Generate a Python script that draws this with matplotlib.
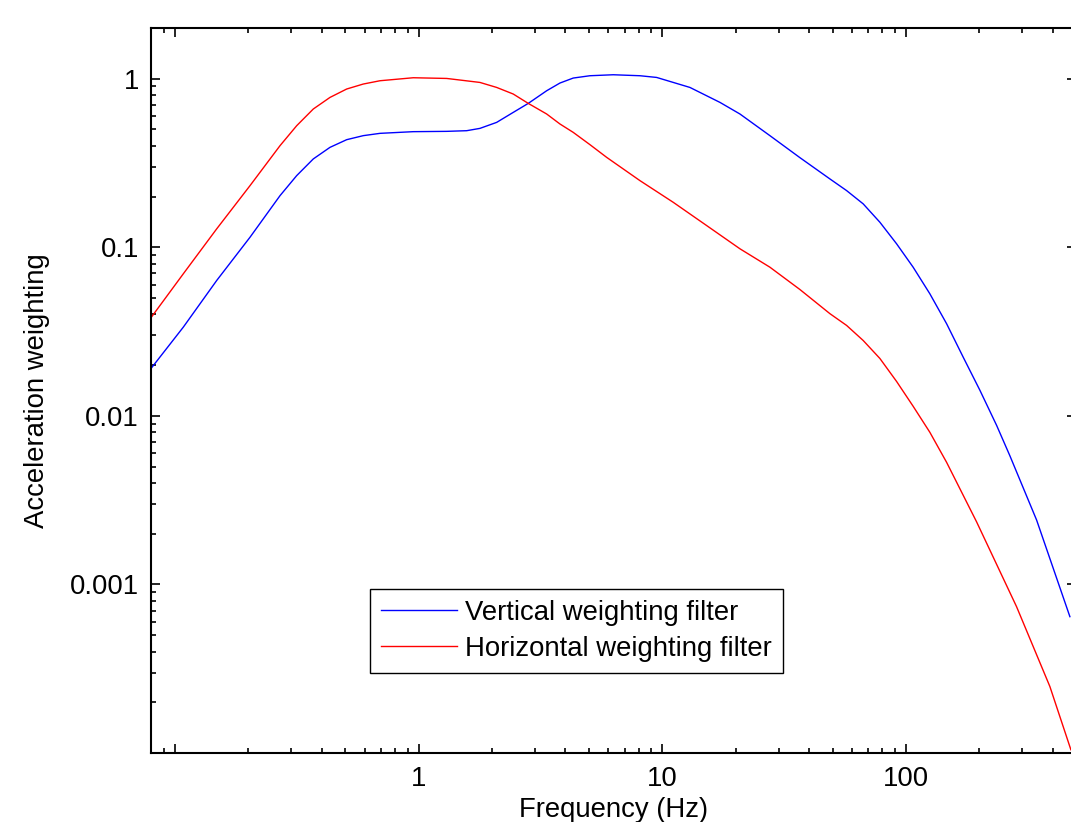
'''Acceleration weighting filters (vertical / horizontal), log-log plot.'''
# pylint: disable=invalid-name
import matplotlib
matplotlib.use('Agg')
import matplotlib.pyplot as plt
from matplotlib.ticker import LogLocator, NullFormatter

BLUE = '#0000ff'
RED = '#ff0000'

# values
VERT_FREQ = [0.0804, 0.1082, 0.1483, 0.2032, 0.2698, 0.3158, 0.3694,
             0.4325, 0.5064, 0.5924, 0.694, 0.950, 1.303, 1.574, 1.784,
             2.090, 2.444, 2.817, 3.352, 3.800, 4.309, 5.046, 6.288, 8.092,
             9.476, 12.98, 17.24, 20.82, 27.64, 36.69, 48.72, 57.05, 66.74,
             78.15, 91.5, 107.0, 125.3, 146.8, 171.7, 201.1, 235.4, 266.9,
             343.6, 470.6]
VERT_WEIGHT = [0.01941, 0.03363, 0.06358, 0.1148, 0.2026, 0.2663, 0.3344,
               0.3917, 0.4350, 0.4596, 0.4743, 0.4853, 0.4874, 0.4918,
               0.5076, 0.5510, 0.6315, 0.7141, 0.8488, 0.9430, 1.0095,
               1.042, 1.056, 1.042, 1.018, 0.888, 0.7239, 0.6178, 0.4596,
               0.3404, 0.2545, 0.2170, 0.1810, 0.1408, 0.1049, 0.0762,
               0.0530, 0.0352, 0.0223, 0.01418, 0.00879, 0.00580, 0.00241,
               0.000644]

HORIZ_FREQ = [0.0804, 0.1082, 0.1483, 0.2032, 0.2698, 0.3158, 0.3694,
              0.4325, 0.5064, 0.5924, 0.694, 0.950, 1.303, 1.784, 2.090,
              2.444, 2.817, 3.352, 3.800, 4.309, 5.046, 5.907, 8.092, 11.08,
              15.20, 20.82, 27.64, 36.69, 48.72, 57.05, 66.74, 78.15, 91.5,
              107.0, 125.3, 146.8, 194.9, 284.3, 389.5, 475.1]
HORIZ_WEIGHT = [0.0389, 0.0697, 0.1287, 0.2323, 0.4010, 0.5266, 0.6614,
                0.7748, 0.8690, 0.9302, 0.9731, 1.0137, 1.0041, 0.9508,
                0.888, 0.8116, 0.7141, 0.6178, 0.5390, 0.4806, 0.4064,
                0.3418, 0.2487, 0.1850, 0.1346, 0.0980, 0.0762, 0.0562,
                0.0404, 0.0344, 0.0280, 0.0219, 0.0160, 0.01140, 0.00799,
                0.0053, 0.00235, 0.000738, 0.000248, 0.0001045]

X_TICKS = [0.1, 1, 10, 100]
X_TICK_LABELS = ['', '1', '10', '100']
Y_TICKS = [0.001, 0.01, 0.1, 1]
Y_TICK_LABELS = ['0.001', '0.01', '0.1', '1']

FONT_SIZE = 19.8
FIG_NAME = 'out.png'


def create_fig(filename):
    '''Create the weighting filter figure.'''
    plt.rcParams['font.family'] = ['Liberation Sans', 'DejaVu Sans']
    plt.rcParams['font.size'] = FONT_SIZE

    fig = plt.figure(figsize=(10.71, 8.22), dpi=100)
    # right spine lies just outside the picture, as in the reference
    ax = fig.add_axes([151.4 / 1071, 69 / 822, 924.9 / 1071, 725 / 822])

    ax.plot(VERT_FREQ, VERT_WEIGHT, color=BLUE, linewidth=1.0,
            label='Vertical weighting filter')
    ax.plot(HORIZ_FREQ, HORIZ_WEIGHT, color=RED, linewidth=1.0,
            label='Horizontal weighting filter')

    ax.set_xscale('log')
    ax.set_yscale('log')
    ax.set_xlim(0.08, 500)
    ax.set_ylim(1e-4, 2)

    ax.set_xticks(X_TICKS)
    ax.set_xticklabels(X_TICK_LABELS)
    ax.set_yticks(Y_TICKS)
    ax.set_yticklabels(Y_TICK_LABELS)
    ax.xaxis.set_minor_locator(LogLocator(base=10, subs=range(2, 10)))
    ax.yaxis.set_minor_locator(LogLocator(base=10, subs=range(2, 10)))
    ax.xaxis.set_minor_formatter(NullFormatter())
    ax.yaxis.set_minor_formatter(NullFormatter())

    # ticks inside on all four sides
    ax.tick_params(which='both', direction='in', top=True, right=True,
                   width=1.2, labelsize=FONT_SIZE)
    ax.tick_params(which='major', length=6.5, pad=9)
    ax.tick_params(which='minor', length=3.5)
    for spine in ax.spines.values():
        spine.set_linewidth(1.5)

    ax.set_xlabel('Frequency (Hz)', fontsize=FONT_SIZE, labelpad=4)
    ax.set_ylabel('Acceleration weighting', fontsize=FONT_SIZE, labelpad=14)

    leg = ax.legend(loc='lower left', bbox_to_anchor=(0.2363, 0.1103),
                    borderaxespad=0, fancybox=False, framealpha=1,
                    edgecolor='black', fontsize=FONT_SIZE,
                    handlelength=2.75, handletextpad=0.3,
                    borderpad=0.4, labelspacing=0.38)
    leg.get_frame().set_linewidth(1.0)

    fig.savefig(filename, dpi=100)


def main():
    '''Main.'''
    create_fig(FIG_NAME)


if __name__ == "__main__":
    main()
